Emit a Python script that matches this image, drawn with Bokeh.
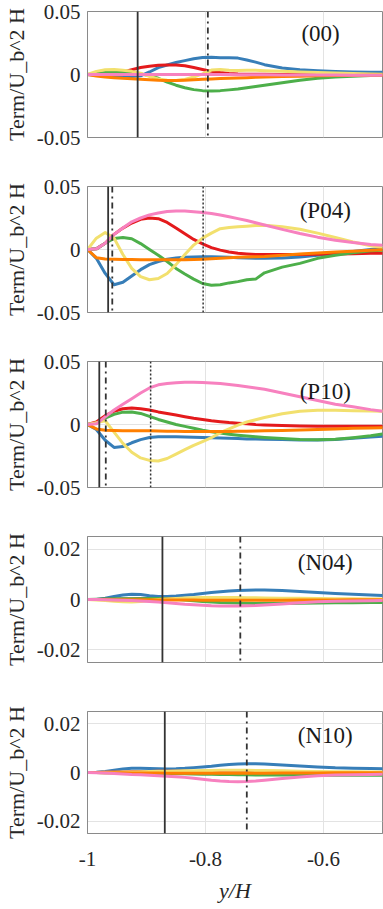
from bokeh.plotting import figure
from bokeh.layouts import column
from bokeh.models import FixedTicker, Span, Label, Range1d
from bokeh.embed import file_html
from bokeh.resources import INLINE

# ---------------- data ----------------
y_over_H = [-1.0, -0.985, -0.97, -0.955, -0.94, -0.925, -0.91, -0.895, -0.88, -0.865,
            -0.85, -0.835, -0.82, -0.805, -0.79, -0.775, -0.76, -0.745, -0.73, -0.715,
            -0.70, -0.67, -0.64, -0.61, -0.58, -0.55, -0.52, -0.50]

panel_names = ["(00)", "(P04)", "(P10)", "(N04)", "(N10)"]
series_colors = ["#377eb8", "#e41a1c", "#4daf4a", "#f2e06e", "#ff7f00", "#f781bf"]

# (00)
c00_blue = [0, -0.0005, -0.001, -0.0013, -0.0015, -0.0016, -0.001, 0.002, 0.0055, 0.0075, 0.0095, 0.011, 0.0125, 0.0135, 0.0137, 0.0133, 0.0133, 0.013, 0.0115, 0.0098, 0.0078, 0.0052, 0.0037, 0.0029, 0.0024, 0.002, 0.0018, 0.0017]
c00_red = [0, 0.0, 0.0003, 0.001, 0.002, 0.0038, 0.0055, 0.0065, 0.0073, 0.0076, 0.0075, 0.007, 0.0055, 0.004, 0.0025, 0.0015, 0.0008, 0.0004, 0.0002, 0.0001, 0.0001, 0, 0, 0, 0, -0.0002, -0.0004, -0.0005]
c00_green = [0, 0.0008, 0.0015, 0.0022, 0.0022, 0.0015, 0.0005, -0.001, -0.003, -0.006, -0.0085, -0.0105, -0.012, -0.0128, -0.013, -0.0128, -0.0122, -0.0115, -0.0105, -0.0095, -0.0085, -0.0065, -0.0045, -0.003, -0.002, -0.0013, -0.0008, -0.0006]
c00_yellow = [0, 0.0025, 0.0038, 0.004, 0.0033, 0.0025, 0.001, -0.0015, -0.0035, -0.0045, -0.0048, -0.004, -0.002, 0.0005, 0.0035, 0.004, 0.0033, 0.0032, 0.0033, 0.0033, 0.003, 0.0025, 0.002, 0.0016, 0.0012, 0.0008, 0.0004, 0.0002]
c00_orange = [0, -0.0012, -0.002, -0.0025, -0.003, -0.0033, -0.0038, -0.0042, -0.0046, -0.0048, -0.0047, -0.0045, -0.0042, -0.0038, -0.0035, -0.0032, -0.003, -0.0027, -0.0025, -0.0022, -0.002, -0.0016, -0.0013, -0.001, -0.0008, -0.0007, -0.0006, -0.0005]
c00_pink = [0, 0, 0, 0, 0, 0, 0, 0, 0, 0, 0, 0, 0, 0, 0, 0, 0, -0.0001, -0.0001, -0.0002, -0.0002, -0.0003, -0.0003, -0.0004, -0.0004, -0.0005, -0.0005, -0.0005]

# (P04)
p04_blue = [0, -0.007, -0.019, -0.028, -0.026, -0.021, -0.016, -0.012, -0.0095, -0.0078, -0.0068, -0.0062, -0.006, -0.0058, -0.0058, -0.006, -0.0062, -0.0065, -0.0068, -0.007, -0.007, -0.0068, -0.006, -0.0045, -0.003, -0.0015, 0.0, 0.0008]
p04_red = [0, 0.0005, 0.005, 0.012, 0.017, 0.021, 0.024, 0.025, 0.0245, 0.0215, 0.017, 0.0125, 0.008, 0.0045, 0.0015, -0.0005, -0.002, -0.003, -0.0035, -0.004, -0.004, -0.004, -0.004, -0.0038, -0.0035, -0.0033, -0.003, -0.003]
p04_green = [0, 0.0005, 0.005, 0.0088, 0.0095, 0.0085, 0.0047, 0.0, -0.0045, -0.0095, -0.015, -0.0195, -0.0235, -0.027, -0.0283, -0.028, -0.0265, -0.0255, -0.024, -0.0235, -0.0185, -0.014, -0.011, -0.007, -0.0045, -0.0025, -0.001, -0.0005]
p04_yellow = [0, 0.009, 0.0135, 0.009, -0.004, -0.015, -0.0215, -0.024, -0.023, -0.019, -0.012, -0.004, 0.0035, 0.009, 0.013, 0.0165, 0.0175, 0.018, 0.0185, 0.019, 0.0192, 0.018, 0.016, 0.013, 0.0095, 0.006, 0.003, 0.0016]
p04_orange = [0, -0.0065, -0.0075, -0.0078, -0.008, -0.008, -0.0081, -0.0082, -0.0082, -0.0082, -0.0082, -0.0082, -0.008, -0.0077, -0.0073, -0.0069, -0.0065, -0.0062, -0.006, -0.0057, -0.0055, -0.0045, -0.0035, -0.0027, -0.002, -0.0013, -0.0006, -0.0002]
p04_pink = [0, 0.0005, 0.005, 0.012, 0.017, 0.022, 0.025, 0.0275, 0.029, 0.0302, 0.0306, 0.0305, 0.030, 0.0293, 0.0285, 0.0273, 0.026, 0.0245, 0.023, 0.0212, 0.0195, 0.016, 0.0127, 0.0098, 0.0074, 0.0055, 0.004, 0.0033]

# (P10)
p10_blue = [0, -0.004, -0.0125, -0.0182, -0.0175, -0.0145, -0.012, -0.0103, -0.0098, -0.0097, -0.0098, -0.010, -0.0102, -0.0103, -0.0105, -0.0107, -0.011, -0.0112, -0.0115, -0.0115, -0.0117, -0.012, -0.0123, -0.0123, -0.012, -0.011, -0.010, -0.0093]
p10_red = [0, 0.002, 0.007, 0.0105, 0.0125, 0.013, 0.0125, 0.0115, 0.010, 0.0088, 0.0075, 0.0062, 0.005, 0.004, 0.003, 0.0022, 0.0015, 0.001, 0.0005, 0.0, -0.0003, -0.0008, -0.0012, -0.0013, -0.0013, -0.0013, -0.0013, -0.0013]
p10_green = [0, 0.001, 0.005, 0.008, 0.0098, 0.010, 0.0088, 0.0065, 0.004, 0.002, 0.0, -0.0015, -0.003, -0.0045, -0.0058, -0.0068, -0.0078, -0.0085, -0.0092, -0.0098, -0.0103, -0.0112, -0.012, -0.0122, -0.0118, -0.0105, -0.009, -0.0075]
p10_yellow = [0, 0.0015, 0.003, -0.006, -0.015, -0.022, -0.0265, -0.0285, -0.029, -0.027, -0.0235, -0.020, -0.0165, -0.0135, -0.0105, -0.0065, -0.0035, -0.0005, 0.002, 0.0038, 0.0055, 0.0085, 0.0105, 0.0113, 0.0113, 0.011, 0.0108, 0.0106]
p10_orange = [0, -0.0035, -0.0045, -0.0048, -0.005, -0.005, -0.005, -0.005, -0.0052, -0.0053, -0.0054, -0.0055, -0.0055, -0.0055, -0.0055, -0.0055, -0.0055, -0.0054, -0.0053, -0.0052, -0.005, -0.0047, -0.0043, -0.0039, -0.0035, -0.003, -0.0027, -0.0025]
p10_pink = [0, 0.0005, 0.006, 0.0115, 0.016, 0.0205, 0.025, 0.029, 0.0315, 0.0325, 0.0332, 0.0335, 0.0335, 0.0333, 0.033, 0.0325, 0.0318, 0.031, 0.030, 0.029, 0.028, 0.025, 0.022, 0.019, 0.016, 0.014, 0.0118, 0.0106]

# (N04)
n04_blue = [0, 0.0, 0.0005, 0.0012, 0.0018, 0.0021, 0.002, 0.0015, 0.0012, 0.0012, 0.0014, 0.0017, 0.002, 0.0024, 0.0028, 0.0031, 0.0034, 0.0036, 0.0037, 0.0038, 0.0038, 0.0036, 0.0032, 0.0028, 0.0024, 0.0021, 0.0018, 0.0016]
n04_red = [0, 0, 0.0001, 0.0001, 0.0002, 0.0002, 0.0003, 0.0003, 0.0004, 0.0004, 0.0004, 0.0004, 0.0003, 0.0003, 0.0002, 0.0002, 0.0001, 0.0001, 0.0, 0.0, -0.0001, -0.0001, -0.0002, -0.0002, -0.0002, -0.0002, -0.0002, -0.0002]
n04_green = [0, 0.0001, 0.0002, 0.0003, 0.0003, 0.0003, 0.0003, 0.0004, 0.0004, 0.0003, 0.0001, -0.0002, -0.0005, -0.0008, -0.001, -0.0012, -0.0013, -0.0014, -0.0015, -0.0016, -0.0016, -0.0016, -0.0015, -0.0014, -0.0013, -0.0013, -0.0012, -0.0012]
n04_yellow = [0, -0.0002, -0.0004, -0.0007, -0.0009, -0.001, -0.0008, -0.0004, 0.0, 0.0002, 0.0004, 0.0006, 0.0007, 0.0008, 0.0008, 0.0008, 0.0008, 0.0008, 0.0007, 0.0007, 0.0006, 0.0005, 0.0005, 0.0004, 0.0003, 0.0003, 0.0002, 0.0002]
n04_orange = [0, 0, 0, -0.0001, -0.0001, -0.0001, -0.0001, -0.0001, -0.0002, -0.0002, -0.0002, -0.0002, -0.0002, -0.0003, -0.0003, -0.0003, -0.0003, -0.0003, -0.0003, -0.0003, -0.0003, -0.0003, -0.0002, -0.0002, -0.0002, -0.0001, -0.0001, -0.0001]
n04_pink = [0, 0, -0.0001, -0.0002, -0.0003, -0.0004, -0.0006, -0.0008, -0.001, -0.0013, -0.0016, -0.0019, -0.0021, -0.0023, -0.0025, -0.0026, -0.0026, -0.0026, -0.0025, -0.0024, -0.0022, -0.0018, -0.0013, -0.0009, -0.0007, -0.0006, -0.0005, -0.0004]

# (N10)
n10_blue = [0, 0.0001, 0.0004, 0.0009, 0.0014, 0.0017, 0.0017, 0.0016, 0.0015, 0.0014, 0.0015, 0.0017, 0.002, 0.0023, 0.0026, 0.003, 0.0033, 0.0035, 0.0036, 0.0036, 0.0035, 0.0031, 0.0027, 0.0023, 0.0019, 0.0017, 0.0016, 0.0015]
n10_red = [0, 0, 0.0001, 0.0002, 0.0002, 0.0003, 0.0004, 0.0004, 0.0005, 0.0005, 0.0005, 0.0005, 0.0004, 0.0004, 0.0003, 0.0002, 0.0002, 0.0001, 0.0001, 0.0, 0.0, 0.0, -0.0001, -0.0001, -0.0001, -0.0001, -0.0001, -0.0001]
n10_green = [0, 0, -0.0001, -0.0001, -0.0002, -0.0002, -0.0003, -0.0003, -0.0004, -0.0004, -0.0005, -0.0005, -0.0006, -0.0007, -0.0007, -0.0008, -0.0008, -0.0009, -0.0009, -0.001, -0.001, -0.001, -0.001, -0.0011, -0.0011, -0.0011, -0.0011, -0.0011]
n10_yellow = [0, 0, 0.0001, 0.0001, 0.0002, 0.0002, 0.0003, 0.0004, 0.0005, 0.0005, 0.0006, 0.0007, 0.0007, 0.0008, 0.0008, 0.0009, 0.0009, 0.0009, 0.0009, 0.0008, 0.0008, 0.0007, 0.0005, 0.0004, 0.0003, 0.0003, 0.0002, 0.0002]
n10_orange = [0, 0, -0.0001, -0.0001, -0.0001, -0.0002, -0.0002, -0.0002, -0.0002, -0.0003, -0.0003, -0.0003, -0.0003, -0.0003, -0.0003, -0.0003, -0.0003, -0.0003, -0.0003, -0.0003, -0.0003, -0.0002, -0.0002, -0.0002, -0.0001, -0.0001, -0.0001, -0.0001]
n10_pink = [0, -0.0001, -0.0002, -0.0004, -0.0006, -0.0008, -0.0009, -0.0011, -0.0013, -0.0015, -0.0017, -0.002, -0.0024, -0.0028, -0.0032, -0.0035, -0.0037, -0.0038, -0.0037, -0.0035, -0.0032, -0.0025, -0.0018, -0.0013, -0.001, -0.0009, -0.0008, -0.0007]

# vertical marker lines (y/H) and their styles
vlines_00 = [-0.915, -0.796]
vlines_p04 = [-0.965, -0.958, -0.804]
vlines_p10 = [-0.980, -0.969, -0.893]
vlines_n04 = [-0.873, -0.741]
vlines_n10 = [-0.869, -0.730]
vline_dashes = ["solid", "dashdot", "2 2"]

x_ticks = [-1.0, -0.8, -0.6]
x_tick_labels = ["-1", "-0.8", "-0.6"]
y_ticks_big = [-0.05, 0.0, 0.05]
y_tick_labels_big = ["-0.05", "0", "0.05"]
y_ticks_small = [-0.02, 0.0, 0.02]
y_tick_labels_small = ["-0.02", "0", "0.02"]
y_lim_big = (-0.05, 0.05)
y_lim_small = (-0.025, 0.025)
label_pos = [(-0.605, 0.0325), (-0.597, 0.031), (-0.597, 0.026), (-0.597, 0.0148), (-0.597, 0.015)]

panels = [
    ([c00_blue, c00_red, c00_green, c00_yellow, c00_orange, c00_pink], vlines_00, y_lim_big, y_ticks_big, y_tick_labels_big),
    ([p04_blue, p04_red, p04_green, p04_yellow, p04_orange, p04_pink], vlines_p04, y_lim_big, y_ticks_big, y_tick_labels_big),
    ([p10_blue, p10_red, p10_green, p10_yellow, p10_orange, p10_pink], vlines_p10, y_lim_big, y_ticks_big, y_tick_labels_big),
    ([n04_blue, n04_red, n04_green, n04_yellow, n04_orange, n04_pink], vlines_n04, y_lim_small, y_ticks_small, y_tick_labels_small),
    ([n10_blue, n10_red, n10_green, n10_yellow, n10_orange, n10_pink], vlines_n10, y_lim_small, y_ticks_small, y_tick_labels_small),
]

FONT = "Liberation Serif"
GRAY = "#8a8a8a"
figs = []
for i, (series, vlines, ylim, yt, ytl) in enumerate(panels):
    last = i == len(panels) - 1
    p = figure(width=383, height=205 if last else 175, output_backend="svg",
               toolbar_location=None, x_range=Range1d(-1.0, -0.5),
               y_range=Range1d(*ylim), min_border_left=87, min_border_right=1,
               min_border_top=11, min_border_bottom=68 if last else 38)
    p.outline_line_color = GRAY
    p.outline_line_width = 1
    p.background_fill_color = "white"
    p.border_fill_color = "white"

    p.xaxis.ticker = FixedTicker(ticks=x_ticks)
    p.xaxis.major_label_overrides = {t: l for t, l in zip(x_ticks, x_tick_labels)}
    p.yaxis.ticker = FixedTicker(ticks=yt)
    p.yaxis.major_label_overrides = {t: l for t, l in zip(yt, ytl)}
    for ax in (p.xaxis[0], p.yaxis[0]):
        ax.axis_line_color = GRAY
        ax.major_tick_line_color = None
        ax.minor_tick_line_color = None
        ax.major_tick_out = 0
        ax.major_tick_in = 0
        ax.minor_tick_out = 0
        ax.major_label_text_font = FONT
        ax.major_label_text_font_size = "21px"
        ax.major_label_text_color = "#262626"
        ax.axis_label_text_font = FONT
        ax.axis_label_text_font_size = "22px"
        ax.axis_label_text_color = "#262626"
    p.yaxis.major_label_standoff = 7
    p.yaxis.axis_label = "Term/U_b^2 H"
    p.yaxis.axis_label_standoff = 5
    p.yaxis.axis_label_text_font_style = "normal"
    if last:
        p.xaxis.axis_label = "y/H"
        p.xaxis.axis_label_text_font_style = "italic"
        p.xaxis.major_label_standoff = 18
        p.xaxis.axis_label_standoff = 9
    else:
        p.xaxis.visible = False

    p.xgrid.ticker = FixedTicker(ticks=x_ticks)
    p.ygrid.ticker = FixedTicker(ticks=yt)
    p.xgrid.grid_line_color = "#e3e3e3"
    p.ygrid.grid_line_color = "#e3e3e3"

    for ys, col in zip(series, series_colors):
        p.line(y_over_H, ys, line_color=col, line_width=3, line_join="round", line_cap="round")

    for loc, dash in zip(vlines, vline_dashes):
        p.add_layout(Span(location=loc, dimension="height", line_color="#333333",
                          line_width=1.8 if dash != "2 2" else 1.5, line_dash=dash))

    lx, ly = label_pos[i]
    p.add_layout(Label(x=lx, y=ly, text=panel_names[i], text_font=FONT,
                       text_font_size="23px", text_color="#1a1a1a",
                       text_align="center", text_baseline="middle"))
    figs.append(p)

layout = column(*figs, spacing=0)
open("out.html", "w").write(file_html(layout, INLINE))
